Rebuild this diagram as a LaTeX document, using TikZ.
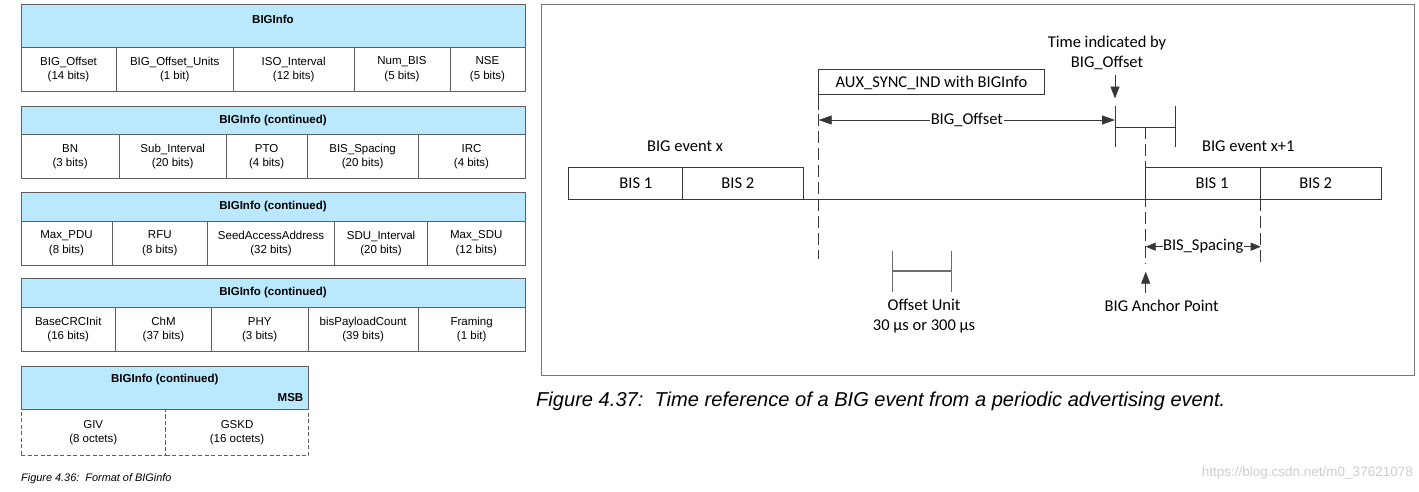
\documentclass[tikz,border=0pt]{standalone}
\usepackage{fontspec}
\setmainfont{Liberation Sans}
\newfontfamily\calfont{Carlito}
\usetikzlibrary{arrows.meta}
\definecolor{hdrblue}{RGB}{186,232,252}
\definecolor{tblline}{RGB}{95,95,95}
\definecolor{lnc}{RGB}{55,55,55}
\definecolor{framec}{RGB}{120,120,120}
\definecolor{unitc}{RGB}{110,110,110}
\definecolor{wmark}{RGB}{205,205,205}
\newcommand\tabfont{\fontsize{11.5}{14.4}\selectfont}
\newcommand\calsize{\calfont\fontsize{16.5}{20}\selectfont}
\tikzset{
  tbl/.style={draw=tblline, line width=0.8pt, inner sep=0pt, outer sep=0pt, anchor=north west, align=center, font=\tabfont},
  hdr/.style={tbl, fill=hdrblue, font=\tabfont\bfseries},
  dcell/.style={tbl, dashed, dash pattern=on 4pt off 2.5pt},
  htext/.style={inner sep=0pt, font=\tabfont\bfseries},
  box/.style={draw=lnc, line width=0.8pt, inner sep=0pt, outer sep=0pt, anchor=north west},
  lbl/.style={inner sep=0pt, align=center, font=\calsize},
  ln/.style={draw=lnc, line width=0.9pt},
  dln/.style={ln, dash pattern=on 12pt off 5pt},
  arr/.style={ln, -{Triangle[length=12pt,width=9pt]}},
  sarr/.style={ln, {Triangle[length=10pt,width=8pt]}-{Triangle[length=10pt,width=8pt]}},
}
% name, x1, x2, y1, y2, text ; optional style
\newcommand\mycell[7][tbl]{\node[#1, minimum width=#4pt-#3pt, minimum height=#6pt-#5pt] (#2) at (#3,#5) {#7};}
\begin{document}
\begin{tikzpicture}[x=1pt,y=-1pt]
\useasboundingbox (0,0) rectangle (1419,491);

% ---------- Table 1 ----------
\mycell[hdr]{h1}{21}{525}{4.5}{47.7}{}
\node[htext] (h1t) at (273,19) {BIGInfo};
\mycell{c11}{21}{116}{47.7}{91}{BIG\_Offset\\(14 bits)}
\mycell{c12}{116}{233.4}{47.7}{91}{BIG\_Offset\_Units\\(1 bit)}
\mycell{c13}{233.4}{354}{47.7}{91}{ISO\_Interval\\(12 bits)}
\mycell{c14}{354}{450}{47.7}{91}{Num\_BIS\\(5 bits)}
\mycell{c15}{450}{525}{47.7}{91}{NSE\\(5 bits)}

% ---------- Table 2 ----------
\mycell[hdr]{h2}{21}{525}{106}{134.7}{BIGInfo (continued)}
\mycell{c21}{21}{119.3}{134.7}{178.3}{BN\\(3 bits)}
\mycell{c22}{119.3}{226.2}{134.7}{178.3}{Sub\_Interval\\(20 bits)}
\mycell{c23}{226.2}{307.2}{134.7}{178.3}{PTO\\(4 bits)}
\mycell{c24}{307.2}{418}{134.7}{178.3}{BIS\_Spacing\\(20 bits)}
\mycell{c25}{418}{525}{134.7}{178.3}{IRC\\(4 bits)}

% ---------- Table 3 ----------
\mycell[hdr]{h3}{21}{525}{192.3}{221.7}{BIGInfo (continued)}
\mycell{c31}{21}{112}{221.7}{265}{Max\_PDU\\(8 bits)}
\mycell{c32}{112}{207.6}{221.7}{265}{RFU\\(8 bits)}
\mycell{c33}{207.6}{334.5}{221.7}{265}{SeedAccessAddress\\(32 bits)}
\mycell{c34}{334.5}{427.6}{221.7}{265}{SDU\_Interval\\(20 bits)}
\mycell{c35}{427.6}{525}{221.7}{265}{Max\_SDU\\(12 bits)}

% ---------- Table 4 ----------
\mycell[hdr]{h4}{21}{525}{278.3}{307.7}{BIGInfo (continued)}
\mycell{c41}{21}{115.5}{307.7}{351.7}{BaseCRCInit\\(16 bits)}
\mycell{c42}{115.5}{211.4}{307.7}{351.7}{ChM\\(37 bits)}
\mycell{c43}{211.4}{308}{307.7}{351.7}{PHY\\(3 bits)}
\mycell{c44}{308}{418.3}{307.7}{351.7}{bisPayloadCount\\(39 bits)}
\mycell{c45}{418.3}{525}{307.7}{351.7}{Framing\\(1 bit)}

% ---------- Table 5 ----------
\mycell[dcell]{c51}{21}{165.5}{409.3}{455.7}{GIV\\(8 octets)}
\mycell[dcell]{c52}{165.5}{308.6}{409.3}{455.7}{GSKD\\(16 octets)}
\mycell[hdr]{h5}{21}{308.6}{366.7}{409.3}{}
\node[htext] (h5t) at (164.8,380) {BIGInfo (continued)};
\node[htext, anchor=east] (h5m) at (303.5,397.7) {MSB};

\node[inner sep=0pt, anchor=west, font=\itshape\fontsize{10.9}{13}\selectfont] (cap1) at (21,478.5) {Figure 4.36:\ \ Format of BIGinfo};

% ---------- Right panel ----------
\node[draw=framec, line width=0.8pt, inner sep=0pt, outer sep=0pt, anchor=north west, minimum width=872.3pt, minimum height=371pt] (panel) at (541.7,4.7) {};

% BIS boxes
\node[box, minimum width=114pt, minimum height=31.3pt] (bisA1) at (568.3,167.7) {};
\node[box, minimum width=121pt, minimum height=31.3pt] (bisA2) at (682.3,167.7) {};
\node[box, minimum width=115pt, minimum height=31.3pt] (bisB1) at (1145.7,167.7) {};
\node[box, minimum width=120.3pt, minimum height=31.3pt] (bisB2) at (1260.7,167.7) {};
\draw[ln] (bisA1.south west) -- (bisB2.south east);
\node[lbl] (tA1) at (635.8,183.3) {BIS 1};
\node[lbl] (tA2) at (737.8,183.3) {BIS 2};
\node[lbl] (tB1) at (1212,183.3) {BIS 1};
\node[lbl] (tB2) at (1315.7,183.3) {BIS 2};
\node[lbl] (evx) at (685,146.7) {BIG event x};
\node[lbl] (evx1) at (1248.3,146.7) {BIG event x+1};

% AUX_SYNC_IND box
\node[box, minimum width=225.6pt, minimum height=25pt] (aux) at (818.7,69.3) {};
\node[lbl] (auxt) at (931.5,83.3) {AUX\_SYNC\_IND with BIGInfo};
\coordinate (auxs) at (818.7,110);
\coordinate (auxd1) at (818.7,114);
\coordinate (auxd2) at (818.7,259.3);
\draw[ln] (aux.south west) -- (auxs);
\draw[dln] (auxd1) -- (auxd2);

% BIG_Offset arrow
\coordinate (offL) at (818.7,120);
\coordinate (offR) at (1115,120);
\draw[ln, {Triangle[length=13pt,width=9pt]}-{Triangle[length=13pt,width=9pt]}] (offL) -- node[lbl, fill=white, inner xsep=1pt] (offt) {BIG\_Offset} (offR);

% Time indicated by BIG_Offset
\node[lbl] (tib) at (1107,53.3) {Time indicated by\\BIG\_Offset};
\coordinate (tia1) at (1115,75);
\coordinate (tia2) at (1115,98.5);
\draw[arr] (tia1) -- (tia2);
\coordinate (tk1a) at (1115,106);
\coordinate (tk1b) at (1115,146.7);
\coordinate (tk2a) at (1175,106);
\coordinate (tk2b) at (1175,146.7);
\coordinate (tkh1) at (1115,127.3);
\coordinate (tkh2) at (1175,127.3);
\draw[ln] (tk1a) -- (tk1b);
\draw[ln] (tk2a) -- (tk2b);
\draw[ln] (tkh1) -- (tkh2);

% anchor point dashed line
\coordinate (anc1) at (1145.7,127.3);
\coordinate (anc2) at (1145.7,264);
\draw[dln] (anc1) -- (anc2);
\coordinate (sp1) at (1260.7,199);
\coordinate (sp2) at (1260.7,265);
\draw[dln] (sp1) -- (sp2);

% BIS_Spacing
\coordinate (bsL) at (1145.7,246.7);
\coordinate (bsR) at (1260.7,246.7);
\draw[sarr] (bsL) -- node[lbl, fill=white, inner xsep=0.5pt] (bst) {BIS\_Spacing} (bsR);

% BIG Anchor Point
\coordinate (apa1) at (1145.7,293);
\coordinate (apa2) at (1145.7,271.7);
\draw[arr] (apa1) -- (apa2);
\node[lbl] (apt) at (1161.7,306) {BIG Anchor Point};

% Offset Unit
\coordinate (ou1a) at (892,250.7);
\coordinate (ou1b) at (892,291.7);
\coordinate (ou2a) at (951.8,250.7);
\coordinate (ou2b) at (951.8,291.7);
\coordinate (ouh1) at (892,271);
\coordinate (ouh2) at (951.8,271);
\draw[ln, draw=unitc] (ou1a) -- (ou1b);
\draw[ln, draw=unitc] (ou2a) -- (ou2b);
\draw[ln, draw=unitc, line width=1.4pt] (ouh1) -- (ouh2);
\node[lbl] (out) at (924,316.3) {Offset Unit\\30 µs or 300 µs};

% Caption 4.37
\node[inner sep=0pt, anchor=west, font=\itshape\fontsize{20.1}{22}\selectfont] (cap2) at (536,401.5) {Figure 4.37:\ \ Time reference of a BIG event from a periodic advertising event.};

% watermark
\node[inner sep=0pt, anchor=east, text=wmark, font=\fontsize{13.5}{16}\selectfont] (wm) at (1413,473) {https://blog.csdn.net/m0\_37621078};
\end{tikzpicture}
\end{document}
